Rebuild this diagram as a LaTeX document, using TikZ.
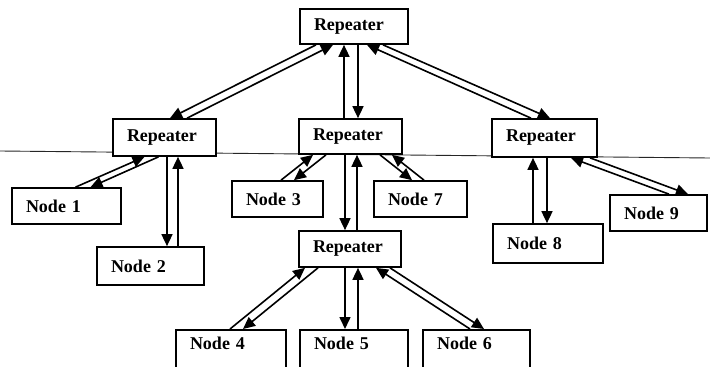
\documentclass[tikz,border=0pt]{standalone}
\usepackage{fontspec}
\setmainfont{Liberation Serif}
\usetikzlibrary{arrows.meta}
\begin{document}
\begin{tikzpicture}[x=1pt,y=-1pt,
  box/.style={draw, line width=1.7pt, fill=white, inner xsep=14pt, inner ysep=0pt,
    align=left, font=\fontsize{18}{20}\selectfont\bfseries},
  leaf/.style={anchor=north, text height=20pt, text depth=24pt},
  link/.style={line width=1.6pt, -{Triangle[length=12pt,width=11pt]}},
  rule/.style={line width=0.9pt, black!85}]
\useasboundingbox (0,0) rectangle (710,367);
\clip (0,0) rectangle (710,367);

% thin rule running across the sheet
\coordinate (ruleL) at (0,151);
\coordinate (ruleR) at (710,158);
\draw[rule] (ruleL) -- (ruleR);

% repeaters
\node[box, text width=80pt, minimum height=35pt] (T) at (354,26.5) {Repeater};
\node[box, text width=75pt, minimum height=37pt] (L) at (164.5,137.5) {Repeater};
\node[box, text width=75pt, minimum height=35pt] (M) at (350.5,136.5) {Repeater};
\node[box, text width=77pt, minimum height=38pt] (R) at (544.5,138) {Repeater};
\node[box, text width=74pt, minimum height=36pt] (B) at (350,249) {Repeater};

% end nodes
\node[box, text width=81pt, minimum height=36pt] (n1) at (66.5,206) {Node 1};
\node[box, text width=79pt, minimum height=38pt] (n2) at (150.5,266) {Node 2};
\node[box, text width=63pt, minimum height=36pt] (n3) at (277.5,199) {Node 3};
\node[box, text width=65pt, minimum height=36pt] (n7) at (420.5,199) {Node 7};
\node[box, text width=82pt, minimum height=39pt] (n8) at (548,243.5) {Node 8};
\node[box, text width=69pt, minimum height=36pt] (n9) at (658.5,213) {Node 9};
\node[box, leaf, text width=82pt] (n4) at (231,329) {Node 4};
\node[box, leaf, text width=80pt] (n5) at (354,329) {Node 5};
\node[box, leaf, text width=79pt] (n6) at (476.5,329) {Node 6};

% two-way links: one arrow each way
\draw[link] ([xshift=-38pt]T.south) -- ([xshift=5.5pt]L.north);
\draw[link] ([xshift=22.5pt]L.north) -- ([xshift=-21pt]T.south);

\draw[link] ([xshift=-6.5pt]M.north) -- ([xshift=-10pt]T.south);
\draw[link] ([xshift=4pt]T.south) -- ([xshift=7.5pt]M.north);

\draw[link] ([xshift=29pt]T.south) -- ([xshift=5.5pt]R.north);
\draw[link] ([xshift=-13.5pt]R.north) -- ([xshift=13pt]T.south);

\draw[link] ([xshift=9pt]n1.north) -- ([xshift=-20pt]L.south);
\draw[link] ([xshift=-6pt]L.south) -- ([xshift=24pt]n1.north);

\draw[link] ([xshift=2.5pt]L.south) -- ([xshift=16.5pt]n2.north);
\draw[link] ([xshift=27.5pt]n2.north) -- ([xshift=13.5pt]L.south);

\draw[link] ([xshift=3.5pt]n3.north) -- ([xshift=-37.5pt]M.south);
\draw[link] ([xshift=-24.5pt]M.south) -- ([xshift=16.5pt]n3.north);

\draw[link] ([xshift=3.5pt]n7.north) -- ([xshift=41.5pt]M.south);
\draw[link] ([xshift=29.5pt]M.south) -- ([xshift=-8.5pt]n7.north);

\draw[link] ([xshift=-5.5pt]M.south) -- ([xshift=-5pt]B.north);
\draw[link] ([xshift=7pt]B.north) -- ([xshift=6.5pt]M.south);

\draw[link] ([xshift=-15pt]n8.north) -- ([xshift=-11.5pt]R.south);
\draw[link] ([xshift=2.5pt]R.south) -- ([xshift=-1pt]n8.north);

\draw[link] ([xshift=45.5pt]R.south) -- ([xshift=29.5pt]n9.north);
\draw[link] ([xshift=10.5pt]n9.north) -- ([xshift=26.5pt]R.south);

\draw[link] ([xshift=-1pt]n4.north) -- ([xshift=-45pt]B.south);
\draw[link] ([xshift=-32pt]B.south) -- ([xshift=12pt]n4.north);

\draw[link] ([xshift=-5pt]B.south) -- ([xshift=-9pt]n5.north);
\draw[link] ([xshift=4pt]n5.north) -- ([xshift=8pt]B.south);

\draw[link] ([xshift=40pt]B.south) -- ([xshift=7.5pt]n6.north);
\draw[link] ([xshift=-6.5pt]n6.north) -- ([xshift=26pt]B.south);
\end{tikzpicture}
\end{document}
